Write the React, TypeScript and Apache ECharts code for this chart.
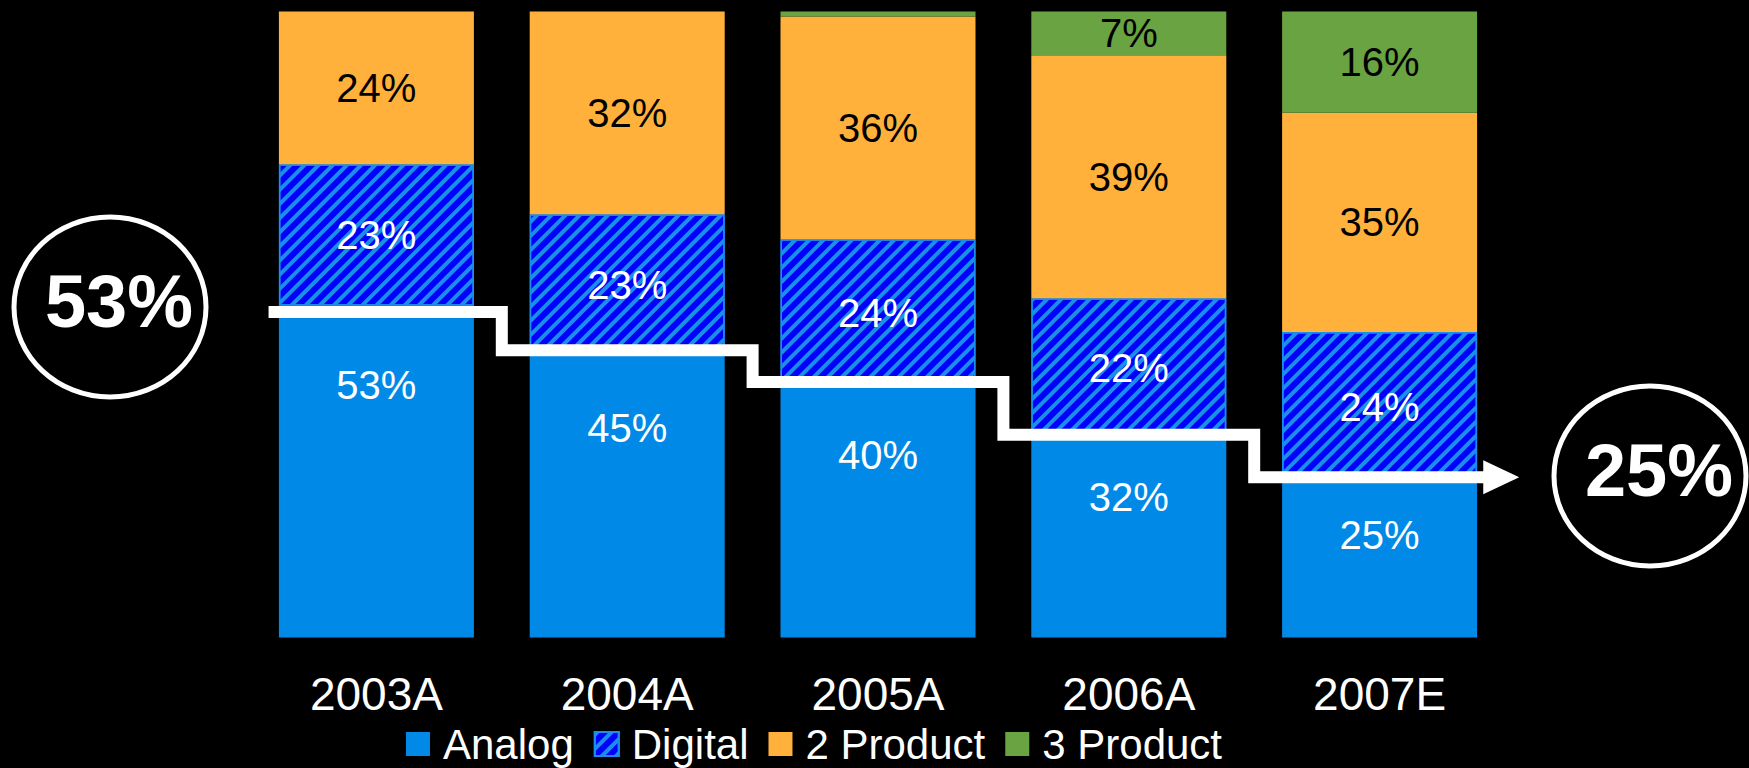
import React, { useEffect, useRef } from 'react';
import * as echarts from 'echarts';

const categories = ['2003A', '2004A', '2005A', '2006A', '2007E'];
const analog = [53, 45, 40, 32, 25];
const digital = [22.6, 22.6, 23.6, 22.2, 23.8];
const product2 = [24.4, 32.4, 35.6, 38.8, 35];
const product3 = [0, 0, 0.8, 7, 16.2];
// level of the white step annotation at each year (in % of the stack)
const trendLevels = [52, 45.9, 40.8, 32.4, 25.6];
// extent of the step annotation, in category-index units
const trendStart = -0.43;
const trendEnd = 4.45;
const arrowAt = 4.485;

const FONT = '"Liberation Sans", Arial, Helvetica, sans-serif';

const pct = (p: any) => {
  const v = Array.isArray(p.value) ? p.value[1] : p.value;
  return v >= 2 ? Math.round(v) + '%' : '';
};

export default function App() {
  const ref = useRef<HTMLDivElement>(null);

  useEffect(() => {
    if (!ref.current) return;
    const chart = echarts.init(ref.current, undefined, { renderer: 'svg' });

    const trendData: number[][] = [[trendStart, trendLevels[0]]];
    for (let i = 0; i < trendLevels.length - 1; i++) {
      trendData.push([i + 0.5, trendLevels[i]]);
      trendData.push([i + 0.5, trendLevels[i + 1]]);
    }
    trendData.push([trendEnd, trendLevels[trendLevels.length - 1]]);

    const labelBase = {
      show: true,
      fontSize: 40,
      fontFamily: FONT,
      formatter: pct,
    };

    chart.setOption({
      animation: false,
      backgroundColor: '#000000',
      textStyle: { fontFamily: FONT },
      grid: { left: 251, right: 244, top: 11.4, bottom: 130.4, containLabel: false },
      legend: {
        left: 406,
        top: 722,
        padding: 0,
        itemWidth: 24,
        itemHeight: 24,
        itemGap: 20,
        icon: 'rect',
        data: ['Analog', 'Digital', '2 Product', '3 Product'],
        textStyle: {
          color: '#ffffff',
          fontSize: 42,
          fontFamily: FONT,
          lineHeight: 44,
          padding: [0, 0, 0, 8],
        },
      },
      xAxis: [
        {
          type: 'category',
          data: categories,
          axisLine: { show: false },
          axisTick: { show: false },
          axisLabel: {
            color: '#ffffff',
            fontSize: 46,
            fontFamily: FONT,
            margin: 56,
            verticalAlign: 'middle',
          },
        },
        {
          type: 'value',
          min: -0.5,
          max: 4.5,
          show: false,
        },
      ],
      yAxis: {
        type: 'value',
        min: 0,
        max: 100,
        show: false,
      },
      series: [
        {
          name: 'Analog',
          type: 'bar',
          stack: 'total',
          barWidth: 195,
          data: analog,
          itemStyle: { color: '#0089E6' },
          label: {
            ...labelBase,
            color: '#ffffff',
            position: ['50%', '14.3%'],
            offset: [0, 31.6],
            align: 'center',
            verticalAlign: 'middle',
          },
        },
        {
          name: 'Digital',
          type: 'bar',
          stack: 'total',
          barWidth: 195,
          data: digital,
          itemStyle: {
            color: '#0000FF',
            borderColor: '#1C8CF0',
            borderWidth: 1.5,
            decal: {
              symbol: 'rect',
              symbolSize: 1,
              color: '#1A8FEA',
              dashArrayX: [1, 0],
              dashArrayY: [4, 6],
              rotation: -Math.PI / 4,
            },
          },
          label: { ...labelBase, color: '#ffffff', position: 'inside' },
        },
        {
          name: '2 Product',
          type: 'bar',
          stack: 'total',
          barWidth: 195,
          data: product2,
          itemStyle: { color: '#FFB13B' },
          label: { ...labelBase, color: '#000000', position: 'inside' },
        },
        {
          name: '3 Product',
          type: 'bar',
          stack: 'total',
          barWidth: 195,
          data: product3,
          itemStyle: { color: '#6AA341' },
          label: { ...labelBase, color: '#000000', position: 'inside' },
        },
        {
          name: 'trend',
          type: 'line',
          xAxisIndex: 1,
          data: trendData,
          symbol: 'none',
          clip: false,
          z: 10,
          lineStyle: { color: '#ffffff', width: 12, join: 'miter', cap: 'butt' },
          silent: true,
        },
        {
          name: 'arrow',
          type: 'scatter',
          xAxisIndex: 1,
          data: [[arrowAt, trendLevels[trendLevels.length - 1]]],
          symbol: 'triangle',
          symbolSize: [34, 36],
          symbolRotate: -90,
          clip: false,
          z: 11,
          itemStyle: { color: '#ffffff', opacity: 1 },
          silent: true,
        },
      ],
      graphic: [
        {
          type: 'ellipse',
          shape: { cx: 110, cy: 307, rx: 96, ry: 90 },
          style: { fill: 'none', stroke: '#ffffff', lineWidth: 5 },
        },
        {
          type: 'text',
          x: 119,
          y: 301,
          style: {
            text: analog[0] + '%',
            fill: '#ffffff',
            font: 'bold 74px ' + FONT,
            align: 'center',
            verticalAlign: 'middle',
            textAlign: 'center',
            textVerticalAlign: 'middle',
          },
        },
        {
          type: 'ellipse',
          shape: { cx: 1650, cy: 476, rx: 96, ry: 90 },
          style: { fill: 'none', stroke: '#ffffff', lineWidth: 5 },
        },
        {
          type: 'text',
          x: 1659,
          y: 470,
          style: {
            text: analog[analog.length - 1] + '%',
            fill: '#ffffff',
            font: 'bold 74px ' + FONT,
            align: 'center',
            verticalAlign: 'middle',
            textAlign: 'center',
            textVerticalAlign: 'middle',
          },
        },
      ],
    });

    return () => chart.dispose();
  }, []);

  return (
    <div style={{ position: 'fixed', left: 0, top: 0, width: 1749, height: 768, background: '#000' }}>
      <div ref={ref} style={{ width: 1749, height: 768 }} />
    </div>
  );
}
